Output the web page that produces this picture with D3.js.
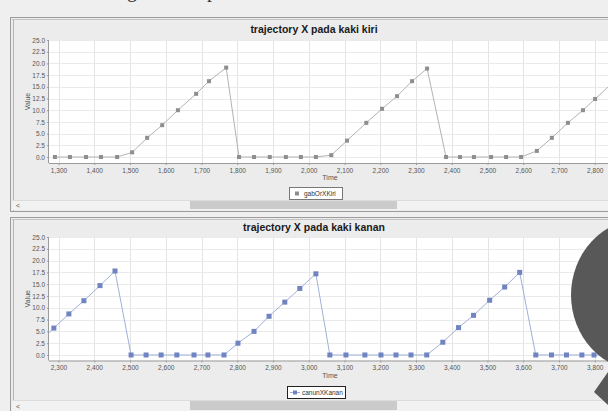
<!DOCTYPE html>
<html><head><meta charset="utf-8">
<script src="https://cdn.jsdelivr.net/npm/d3@7"></script>
<style>body{margin:0;background:#efefef;overflow:hidden}svg{display:block}</style>
</head><body><svg id="c" width="608" height="411"></svg>
<script>
// ---- data ----
const topTitle = "trajectory X pada kaki kiri";
const bottomTitle = "trajectory X pada kaki kanan";
const topLegend = "gabOrXKiri";
const bottomLegend = "canunXKanan";
const xAxisTitle = "Time";
const yAxisTitle = "Value";

const topTime = [1290,1332,1377,1419,1464,1506,1548,1590,1634,1685,1721,1769,1805,1847,1891,1936,1978,2020,2063,2107,2161,2205,2247,2289,2331,2384,2423,2462,2510,2552,2594,2638,2680,2725,2767,2801,2846];
const topValue = [0,0,0,0,0,1.0,4.1,6.8,10.0,13.5,16.2,19.1,0,0,0,0,0,0,0.4,3.5,7.3,10.3,13.0,16.2,18.9,0,0,0,0,0,0,1.3,4.1,7.3,10.0,12.4,15.6];

const bottomTime = [2245,2287,2329,2371,2416,2458,2503,2545,2587,2631,2679,2718,2763,2802,2847,2889,2933,2975,3020,3059,3104,3157,3202,3244,3286,3330,3375,3419,3461,3506,3548,3590,3635,3679,3721,3764,3798,3842];
const bottomValue = [2.7,5.7,8.7,11.5,14.7,17.8,0,0,0,0,0,0,0,2.5,5.0,8.2,11.2,14.1,17.2,0,0,0,0,0,0,0,2.7,5.8,8.4,11.6,14.4,17.5,0,0,0,0,0,0];

const topXTicks = [1300,1400,1500,1600,1700,1800,1900,2000,2100,2200,2300,2400,2500,2600,2700,2800];
const bottomXTicks = [2300,2400,2500,2600,2700,2800,2900,3000,3100,3200,3300,3400,3500,3600,3700,3800];
const yTicks = [0,2.5,5,7.5,10,12.5,15,17.5,20,22.5,25];

// ---- drawing ----
const svg = d3.select('#c');
const W = 608, H = 411;
svg.append('rect').attr('width',W).attr('height',H).attr('fill','#efefef');

// cut-off heading glyphs at very top (only descenders visible)
svg.append('text').attr('x',127).attr('y',-3).attr('font-family','Liberation Serif').attr('font-size',20).attr('fill','#333').text('g');
svg.append('text').attr('x',207).attr('y',-3).attr('font-family','Liberation Serif').attr('font-size',20).attr('fill','#333').text('p');

const fmtX = d3.format(',');
const fmtY = d3.format('.1f');

function drawChart(cfg) {
  const g = svg.append('g');
  // panel
  g.append('rect').attr('x',10.5).attr('y',cfg.panelTop+0.5).attr('width',640).attr('height',cfg.panelBottom-cfg.panelTop)
    .attr('fill','#ececec').attr('stroke','#9c9c9c');
  g.append('line').attr('x1',13.5).attr('x2',13.5).attr('y1',cfg.panelTop+2).attr('y2',cfg.panelBottom)
    .attr('stroke','#b4b4b4');
  g.append('line').attr('x1',12).attr('x2',W).attr('y1',cfg.panelTop+2.5).attr('y2',cfg.panelTop+2.5)
    .attr('stroke','#c4c4c4');

  const x = d3.scaleLinear().domain([cfg.xTicks[0], cfg.xTicks[15]]).range([58.5, 594.75]);
  const y = d3.scaleLinear().domain(cfg.yDomain).range([cfg.plotBottom, cfg.plotTop]);
  const left = 49, right = 611;

  // title
  g.append('text').attr('x',314).attr('y',cfg.titleY).attr('text-anchor','middle')
    .attr('font-family','Liberation Sans').attr('font-weight','bold').attr('font-size',10.5).attr('fill','#1a1a1a')
    .text(cfg.title);

  // plot background
  g.append('rect').attr('x',left).attr('y',cfg.plotTop).attr('width',right-left).attr('height',cfg.plotBottom-cfg.plotTop)
    .attr('fill','#ffffff');

  const clipId = 'clip' + cfg.id;
  svg.append('clipPath').attr('id',clipId).append('rect')
    .attr('x',left).attr('y',cfg.plotTop).attr('width',right-left).attr('height',cfg.plotBottom-cfg.plotTop);

  const plot = g.append('g').attr('clip-path',`url(#${clipId})`);
  // grid
  plot.selectAll('line.vg').data(cfg.xTicks).join('line').attr('class','vg')
    .attr('x1',d=>Math.round(x(d))+0.5).attr('x2',d=>Math.round(x(d))+0.5)
    .attr('y1',cfg.plotTop).attr('y2',cfg.plotBottom).attr('stroke','#e4e4e4');
  plot.selectAll('line.hg').data(yTicks).join('line').attr('class','hg')
    .attr('y1',d=>Math.round(y(d))+0.5).attr('y2',d=>Math.round(y(d))+0.5)
    .attr('x1',left).attr('x2',right).attr('stroke','#eaeaea');

  // axes
  const xAxis = d3.axisBottom(x).tickValues(cfg.xTicks).tickFormat(fmtX).tickSize(2).tickPadding(3);
  const gx = g.append('g').attr('transform',`translate(0,${cfg.plotBottom})`).call(xAxis);
  gx.select('.domain').attr('stroke','#9a9a9a').attr('d',`M${left},0.5H${right}`);
  gx.selectAll('.tick line').attr('stroke','#9a9a9a');
  gx.selectAll('.tick text').attr('font-family','Liberation Sans').attr('font-size',6.5).attr('fill','#555');

  const yAxis = d3.axisLeft(y).tickValues(yTicks).tickFormat(fmtY).tickSize(2).tickPadding(2);
  const gy = g.append('g').attr('transform',`translate(${left},0)`).call(yAxis);
  gy.select('.domain').attr('stroke','#9a9a9a').attr('d',`M-0.5,${cfg.plotTop}V${cfg.plotBottom}`);
  gy.selectAll('.tick line').attr('stroke','#9a9a9a');
  gy.selectAll('.tick text').attr('font-family','Liberation Sans').attr('font-size',6.5).attr('fill','#555');

  // axis titles
  g.append('text').attr('x',330).attr('y',cfg.plotBottom+17).attr('text-anchor','middle')
    .attr('font-family','Liberation Sans').attr('font-size',7).attr('fill','#555').text(xAxisTitle);
  g.append('text').attr('transform',`translate(30,${(cfg.plotTop+cfg.plotBottom)/2}) rotate(-90)`)
    .attr('text-anchor','middle').attr('font-family','Liberation Sans').attr('font-size',7).attr('fill','#555').text(yAxisTitle);

  // series
  const pts = cfg.time.map((t,i)=>[t,cfg.value[i]]);
  plot.append('path').datum(pts)
    .attr('d', d3.line().x(d=>x(d[0])).y(d=>y(d[1])))
    .attr('fill','none').attr('stroke',cfg.lineColor).attr('stroke-width',1);
  const ms = cfg.markerSize;
  plot.selectAll('rect.m').data(pts).join('rect').attr('class','m')
    .attr('x',d=>x(d[0])-ms/2).attr('y',d=>y(d[1])-ms/2).attr('width',ms).attr('height',ms)
    .attr('fill',cfg.markerColor);

  // legend
  const lg = g.append('g');
  lg.append('rect').attr('x',cfg.legendX+0.5).attr('y',cfg.legendY+0.5).attr('width',cfg.legendW).attr('height',12)
    .attr('fill','#ffffff').attr('stroke',cfg.legendStroke);
  if (cfg.legendLine) {
    lg.append('line').attr('x1',cfg.legendX+3).attr('x2',cfg.legendX+13).attr('y1',cfg.legendY+6.5).attr('y2',cfg.legendY+6.5)
      .attr('stroke',cfg.lineColor);
  }
  lg.append('rect').attr('x',cfg.legendX+6).attr('y',cfg.legendY+4.5).attr('width',4).attr('height',4).attr('fill',cfg.markerColor);
  lg.append('text').attr('x',cfg.legendX+15).attr('y',cfg.legendY+9).attr('font-family','Liberation Sans')
    .attr('font-size',6.5).attr('fill','#333').text(cfg.legend);

  // scrollbar
  const sb = g.append('g');
  sb.append('rect').attr('x',12).attr('y',cfg.scrollY).attr('width',W-12).attr('height',cfg.scrollH).attr('fill','#f2f2f2');
  sb.append('line').attr('x1',12).attr('x2',W).attr('y1',cfg.scrollY+0.5).attr('y2',cfg.scrollY+0.5).attr('stroke','#dcdcdc');
  sb.append('rect').attr('x',190).attr('y',cfg.scrollY+1).attr('width',207).attr('height',cfg.scrollH-2).attr('fill','#cbcbcb');
  sb.append('text').attr('x',16).attr('y',cfg.scrollY+cfg.scrollH-2).attr('font-family','Liberation Sans').attr('font-size',7)
    .attr('fill','#555').text('<');
}

drawChart({
  id:'top', panelTop:17, panelBottom:211, titleY:33, plotTop:40, plotBottom:163,
  yDomain:[-1.28,25], xTicks:topXTicks, time:topTime, value:topValue, title:topTitle,
  lineColor:'#b3b3b3', markerColor:'#8e8e8e', markerSize:4,
  legend:topLegend, legendX:289, legendY:187, legendW:53, legendStroke:'#777', legendLine:false,
  scrollY:200, scrollH:10
});
drawChart({
  id:'bot', panelTop:217, panelBottom:420, titleY:231, plotTop:237, plotBottom:360.5,
  yDomain:[-1.17,25], xTicks:bottomXTicks, time:bottomTime, value:bottomValue, title:bottomTitle,
  lineColor:'#9fb0d8', markerColor:'#7084c1', markerSize:5,
  legend:bottomLegend, legendX:287, legendY:386, legendW:58, legendStroke:'#222', legendLine:true,
  scrollY:400, scrollH:11
});

// dark overlay shape on the right
svg.append('ellipse').attr('cx',642).attr('cy',295).attr('rx',71).attr('ry',76).attr('fill','#585858');
svg.append('path').attr('d','M594,392L608,372L608,405Z').attr('fill','#585858');
</script></body></html>
